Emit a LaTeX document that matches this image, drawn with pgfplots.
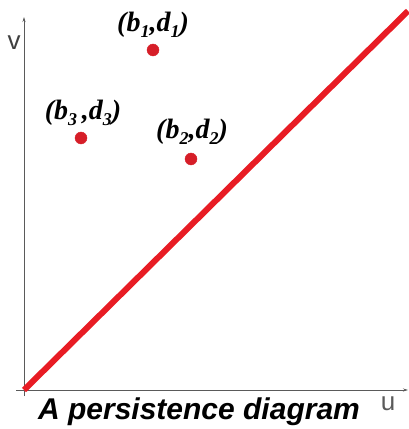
\documentclass[border=0pt]{standalone}
\usepackage{fontspec}
\setmainfont{Liberation Serif}
\newfontfamily\arial{Liberation Sans}
\usepackage{pgfplots}
\pgfplotsset{compat=1.18}
\usetikzlibrary{arrows.meta}
\definecolor{diagred}{RGB}{232,28,36}
\definecolor{dotred}{RGB}{214,30,40}
\definecolor{axgray}{RGB}{90,90,90}
\newcommand{\sub}[1]{\raisebox{-6pt}{\fontsize{18}{18}\selectfont #1}}
\begin{document}
\begin{tikzpicture}
\useasboundingbox (0,0) rectangle (408pt,429pt);
\begin{axis}[
  anchor=south west, at={(0,0)},
  scale only axis, width=408pt, height=429pt,
  xmin=-24, xmax=384, ymin=-39, ymax=390,
  hide axis, clip=false,
]
\draw[axgray, line width=0.7pt, -{Stealth[length=5pt,width=3pt]}] (axis cs:-8,0) -- (axis cs:384,0);
\draw[axgray, line width=0.7pt, -{Stealth[length=5pt,width=3pt]}] (axis cs:0,-6) -- (axis cs:0,373);
\addplot[diagred, line width=6pt, no marks] coordinates {(0,0) (384,379)};
\addplot[only marks, mark=*, mark size=6pt, color=dotred, mark options={fill=dotred, draw=dotred}] coordinates {(129,340) (57,252) (167,231)};
\node[font=\fontsize{28}{28}\selectfont\bfseries\itshape] at (axis cs:129,365) {(b\sub{1},d\sub{1})};
\node[font=\fontsize{28}{28}\selectfont\bfseries\itshape] at (axis cs:59,277) {(b\sub{3}\,,d\sub{3})};
\node[font=\fontsize{28}{28}\selectfont\bfseries\itshape] at (axis cs:168,258) {(b\sub{2},d\sub{2})};
\node[font=\fontsize{30}{30}\selectfont\arial\bfseries\itshape] at (axis cs:175,-22) {A persistence diagram};
\node[font=\fontsize{26}{26}\selectfont\arial, text=axgray!70!black] at (axis cs:-10,347) {v};
\node[font=\fontsize{26}{26}\selectfont\arial, text=axgray] at (axis cs:364,-14) {u};
\end{axis}
\end{tikzpicture}
\end{document}
